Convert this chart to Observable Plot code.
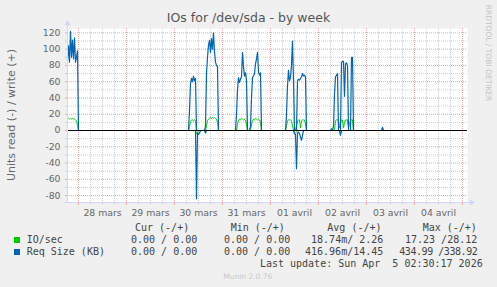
<!DOCTYPE html>
<html><head><meta charset="utf-8">
<script src="https://cdn.jsdelivr.net/npm/d3@7"></script>
<script src="https://cdn.jsdelivr.net/npm/@observablehq/plot@0.6"></script>
<style>
html,body{margin:0;padding:0;background:#F0F0F0;}
#wrap{position:relative;width:497px;height:287px;background:#F0F0F0;overflow:hidden;font-family:"DejaVu Sans";}
#wrap svg{position:absolute;left:0;top:0;}
.t{position:absolute;white-space:pre;}
.mono{font-family:"DejaVu Sans Mono";font-size:10px;line-height:12px;color:#444;}
.sw{position:absolute;width:6px;height:6px;}
</style></head><body><div id="wrap"></div>
<script>
// ---- data (30-minute samples, each segment = [start time, values]) ----
const stepMinutes = 30;
const xStartStr = "2026-03-27T18:30Z";
const xEndStr = "2026-04-05T02:30Z";

const ioWriteSegs = [
  ["2026-03-27T18:30Z", [14,15,14,15,14,15,14,14,13,12,6,0]],
  ["2026-03-30T07:00Z", [0,5,11,13,13,12,13,12,0]],
  ["2026-03-30T15:30Z", [0,6,12,14,15,16,15,16,15,16,15,14,10,0]],
  ["2026-03-31T07:00Z", [0,8,12,14,13,15,14,13,14,12,8,0]],
  ["2026-03-31T14:00Z", [0,8,12,14,13,15,14,13,14,13,10,0]],
  ["2026-04-01T07:30Z", [0,6,12,13,13,13,12,6,0,0,0,6,12,13,13,3,12,13,13,13,8,0]],
  ["2026-04-02T08:00Z", [0,12,13,13,13,3,10,13,13,3,10,13,13,13,3,8,13,13,13,0]]
];
const ioReadSegs = [
  ["2026-03-30T10:30Z", [0,-4,-3,0]],
  ["2026-04-01T11:30Z", [0,-2,-3,-2,0]]
];
const sizeWriteSegs = [
  ["2026-03-27T18:30Z", [86,104,84,122,90,111,88,114,84,90,98,0]],
  ["2026-03-30T07:00Z", [0,25,58,64,60,67,61,64,0]],
  ["2026-03-30T15:00Z", [0,5,70,90,105,111,96,113,100,120,96,84,80,78,0]],
  ["2026-03-31T06:30Z", [0,20,50,65,59,63,66,96,78,67,71,61,0]],
  ["2026-03-31T13:30Z", [0,5,40,65,67,70,82,88,96,72,68,71,0]],
  ["2026-04-01T07:30Z", [0,20,55,74,61,65,80,110,61,0,0,0,61,63,62,64,66,70,67,68,66,0]],
  ["2026-04-02T06:00Z", [0,2,0,5,45,66,68,70,0,0,0,84,85,85,42,82,83,80,0,0,0,90,90,0]],
  ["2026-04-03T07:30Z", [0,4,0]]
];
const sizeReadSegs = [
  ["2026-03-30T10:30Z", [0,-84,-3,-5,-3,0]],
  ["2026-03-30T15:00Z", [0,-3,0]],
  ["2026-04-01T11:30Z", [0,-4,-5,-47,-3,-2,-4,-8,-12,-6,0]],
  ["2026-04-02T10:30Z", [0,-6,0]]
];

const xTickDates = ["2026-03-28T12:00Z","2026-03-29T12:00Z","2026-03-30T12:00Z","2026-03-31T12:00Z","2026-04-01T12:00Z","2026-04-02T12:00Z","2026-04-03T12:00Z","2026-04-04T12:00Z"];
const xTickLabels = ["28 mars","29 mars","30 mars","31 mars","01 avril","02 avril","03 avril","04 avril"];
const yTickValues = [-80,-60,-40,-20,0,20,40,60,80,100,120];
const yTickLabels = ["-80","-60","-40","-20","0","20","40","60","80","100","120"];

const legendHeaders = ["Cur (-/+)","Min (-/+)","Avg (-/+)","Max (-/+)"];
const legendNames = ["IO/sec","Req Size (KB)"];
const legendColors = ["#00CC00","#0066B3"];
const legendCur = ["0.00 / 0.00","0.00 / 0.00"];
const legendMin = ["0.00 / 0.00","0.00 / 0.00"];
const legendAvg = ["18.74m/ 2.26","416.96m/14.45"];
const legendMax = ["17.23 /28.12","434.99 /338.92"];
const lastUpdate = "Last update: Sun Apr  5 02:30:17 2026";
const titleText = "IOs for /dev/sda - by week";
const yLabelText = "Units read (-) / write (+)";

// ---- build ----
function rows(segs, name) {
  const out = [];
  segs.forEach(([start, vals], k) => {
    const t0 = +new Date(start);
    vals.forEach((v, i) => out.push({t: new Date(t0 + i * stepMinutes * 60000), v, seg: name + k}));
  });
  return out;
}
const ioWrite = rows(ioWriteSegs, "iw"), ioRead = rows(ioReadSegs, "ir");
const sizeWrite = rows(sizeWriteSegs, "sw"), sizeRead = rows(sizeReadSegs, "sr");

const xStart = new Date(xStartStr), xEnd = new Date(xEndStr);
const yDomain = [-88.5, 125.4];
const midnights = d3.utcDay.range(d3.utcDay.ceil(xStart), xEnd);
const sixHours = d3.utcHour.every(6).range(xStart, xEnd).filter(d => d.getUTCHours() !== 0);
const yMinor = d3.range(-70, 125, 20);
const xTicks = xTickDates.map(d => new Date(d));
const xLab = new Map(xTicks.map((d, i) => [+d, xTickLabels[i]]));
const yLab = new Map(yTickValues.map((v, i) => [v, yTickLabels[i]]));

const RED = "#e8a6a6", GRAY = "#cfcfcf", AXIS = "#CFD6F8";

const plot = Plot.plot({
  width: 497, height: 287,
  marginLeft: 67, marginRight: 30, marginTop: 28, marginBottom: 85,
  style: {fontFamily: "DejaVu Sans", fontSize: "9.3px", color: "#666", background: "transparent"},
  x: {type: "utc", domain: [xStart, xEnd], label: null},
  y: {domain: yDomain, label: null},
  marks: [
    Plot.frame({fill: "#fff", stroke: null}),
    Plot.ruleY(yMinor, {stroke: GRAY, strokeDasharray: "1,1"}),
    Plot.ruleX(sixHours, {stroke: GRAY, strokeDasharray: "1,1"}),
    Plot.ruleY(yTickValues, {stroke: RED, strokeDasharray: "1,1"}),
    Plot.ruleX(midnights, {stroke: RED, strokeDasharray: "1,1"}),
    Plot.line(ioRead, {x: "t", y: "v", z: "seg", stroke: "#00CC00", strokeWidth: 1}),
    Plot.line(ioWrite, {x: "t", y: "v", z: "seg", stroke: "#00CC00", strokeWidth: 1}),
    Plot.line(sizeRead, {x: "t", y: "v", z: "seg", stroke: "#0066B3", strokeWidth: 1.2}),
    Plot.line(sizeWrite, {x: "t", y: "v", z: "seg", stroke: "#0066B3", strokeWidth: 1.2}),
    Plot.ruleY([0], {stroke: "#000"}),
    Plot.ruleX([xStart], {stroke: AXIS, insetTop: -4}),
    Plot.ruleY([yDomain[0]], {stroke: AXIS, insetLeft: -3, insetRight: -3}),
    Plot.axisX(sixHours, {tickSize: 2, stroke: GRAY, tickFormat: () => "", label: null}),
    Plot.axisX(midnights, {tickSize: 3, stroke: RED, tickFormat: () => "", label: null}),
    Plot.axisX(xTicks, {tickSize: 0, tickPadding: 7, tickFormat: d => xLab.get(+d), label: null, fill: "#666"}),
    Plot.axisY(yMinor, {tickSize: 2, stroke: GRAY, tickFormat: () => "", label: null}),
    Plot.axisY(yTickValues, {tickSize: 2, stroke: RED, tickPadding: 5, tickFormat: d => yLab.get(d), label: null, fill: "#666"})
  ]
});
const wrap = document.getElementById("wrap");
wrap.appendChild(plot);

// axis arrows (positions from scales)
const sx = plot.scale("x"), sy = plot.scale("y");
const x0 = sx.apply(xStart) + 0.5, xr = sx.apply(xEnd), yt = sy.apply(yDomain[1]), yb = sy.apply(yDomain[0]) + 0.5;
const svg = d3.select(plot);
svg.append("polygon").attr("fill", AXIS)
  .attr("points", `${x0-3},${yt-3} ${x0+3},${yt-3} ${x0},${yt-8}`);
svg.append("polygon").attr("fill", AXIS)
  .attr("points", `${xr+3},${yb-3} ${xr+3},${yb+3} ${xr+8},${yb}`);

// ---- text overlays ----
function addText(txt, css, cls) {
  const d = document.createElement("div");
  d.className = "t " + (cls || "");
  d.textContent = txt;
  Object.assign(d.style, css);
  wrap.appendChild(d);
  return d;
}
addText(titleText, {left: "0px", width: "497px", textAlign: "center", top: "12.4px", fontSize: "12.5px", lineHeight: "12.5px", color: "#555"});
addText(yLabelText, {left: "10.8px", top: "114.5px", fontSize: "11px", lineHeight: "11px", color: "#666", transform: "translate(-50%,-50%) rotate(-90deg)"});
addText("RRDTOOL / TOBI OETIKER", {left: "488.3px", top: "53.3px", fontSize: "7.5px", lineHeight: "7.5px", color: "#c4c4c4", transform: "translate(-50%,-50%) rotate(90deg)"});
addText("Munin 2.0.76", {left: "0px", width: "495.6px", textAlign: "center", top: "272.5px", fontSize: "7.5px", lineHeight: "7.5px", color: "#c8c8c8"});

const headerLeft = [135, 230.7, 327.3, 422.7];
legendHeaders.forEach((h, i) => addText(h, {left: headerLeft[i] + "px", top: "221.5px"}, "mono"));
const rowTop = [233.8, 245.7];
legendNames.forEach((n, r) => {
  const sw = document.createElement("div");
  sw.className = "sw";
  Object.assign(sw.style, {left: "14px", top: (rowTop[r] + 3.5) + "px", background: legendColors[r]});
  wrap.appendChild(sw);
  addText(n, {left: "26.7px", top: rowTop[r] + "px"}, "mono");
  addText(legendCur[r], {left: "131px", top: rowTop[r] + "px"}, "mono");
  addText(legendMin[r], {left: "224px", top: rowTop[r] + "px"}, "mono");
  addText(legendAvg[r], {left: "0px", width: "383.3px", textAlign: "right", top: rowTop[r] + "px"}, "mono");
});
// Max column: the second value is squeezed into the same span as in the reference
addText(legendMax[0], {left: "405px", top: rowTop[0] + "px"}, "mono");
addText(legendMax[1], {left: "399.3px", top: rowTop[1] + "px", letterSpacing: "-0.45px"}, "mono");
addText(lastUpdate, {left: "0px", width: "482.7px", textAlign: "right", top: "257.5px"}, "mono");
</script></body></html>
